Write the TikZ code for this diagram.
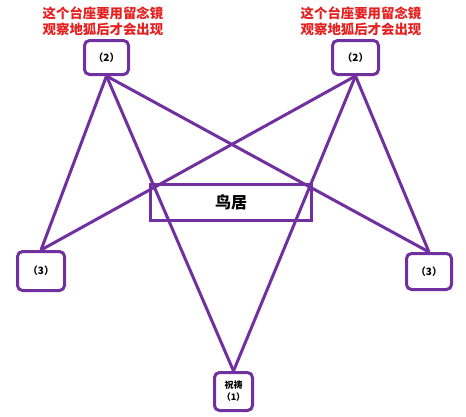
\documentclass[tikz,border=0pt]{standalone}
\usepackage{fontspec}
\setmainfont{Noto Sans CJK SC}
\newfontfamily\cjk{Noto Sans CJK SC}
\definecolor{pur}{RGB}{112,48,160}
\definecolor{redt}{RGB}{228,32,32}
\tikzset{
  box/.style={draw=pur, line width=3pt, rounded corners=5pt, fill=white, inner sep=0pt,
    font=\cjk\bfseries\fontsize{10}{12}\selectfont, align=center},
  torii/.style={draw=pur, line width=3pt, inner sep=0pt, font=\cjk\bfseries\fontsize{16}{18}\selectfont},
  note/.style={text=redt, font=\cjk\bfseries\fontsize{13.4}{16}\selectfont, align=center, inner sep=0pt},
  link/.style={draw=pur, line width=3pt}
}
\begin{document}
\begin{tikzpicture}[x=1pt,y=-1pt]
\useasboundingbox (0,0) rectangle (466,416);
\node[torii, minimum width=161pt, minimum height=36pt] (T) at (231,202.5) {鸟居};
\node[box, minimum width=44pt, minimum height=34pt] (L2) at (106.5,57.5) {（2）};
\node[box, minimum width=46pt, minimum height=34pt] (R2) at (355.5,57.5) {（2）};
\node[box, minimum width=47pt, minimum height=39pt] (L3) at (41,271) {（3）};
\node[box, minimum width=45pt, minimum height=36pt] (R3) at (429,271.5) {（3）};
\node[box, minimum width=38pt, minimum height=38pt, font=\cjk\bfseries\fontsize{9}{12}\selectfont] (B1) at (233.5,391.5) {祝祷\\（1）};
\node[note] (NL) at (103,21) {这个台座要用留念镜\\观察地狐后才会出现};
\node[note] (NR) at (361,21) {这个台座要用留念镜\\观察地狐后才会出现};
\draw[link] (L2.south) -- (L3.north);
\draw[link] (L2.south) -- (B1.north);
\draw[link] (L2.south) -- (R3.north);
\draw[link] (R2.south) -- (R3.north);
\draw[link] (R2.south) -- (B1.north);
\draw[link] (R2.south) -- (L3.north);
\end{tikzpicture}
\end{document}
